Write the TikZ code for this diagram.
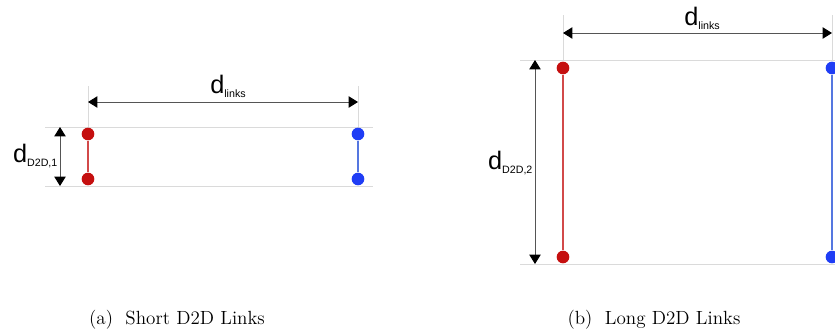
\documentclass[tikz,border=0pt]{standalone}
\usepackage{fontspec}
\setsansfont{Liberation Sans}
\usetikzlibrary{arrows.meta,positioning,calc}
\definecolor{dotred}{HTML}{C50F0F}
\definecolor{linered}{HTML}{D24A4A}
\definecolor{dotblue}{HTML}{1F3DF5}
\definecolor{lineblue}{HTML}{5577E0}
\definecolor{guidecol}{HTML}{DADADA}
\definecolor{dimcol}{HTML}{555555}

\newcommand{\dlabel}[1]{{\fontsize{19}{19}\selectfont d}\raisebox{-0.6ex}{\fontsize{8}{8}\selectfont #1}}

\begin{document}
\begin{tikzpicture}[
  x=0.75pt, y=-0.75pt, font=\sffamily,
  >={Triangle[length=7pt,width=8.5pt,color=black]},
  dot/.style={circle, inner sep=0pt, minimum size=9.5pt},
  guide/.style={guidecol, line width=0.7pt},
  dimline/.style={<->, dimcol, line width=0.7pt},
  caption/.style={font=\rmfamily\fontsize{14.3}{16}\selectfont}
]
\useasboundingbox (0,0) rectangle (835,332);

% (a) short links
\coordinate (aTL) at (45,127);
\coordinate (aTR) at (373,127);
\coordinate (aBL) at (45,186);
\coordinate (aBR) at (373,186);
\draw[guide] (aTL) -- (aTR);
\draw[guide] (aBL) -- (aBR);
\draw[guide] (88,86) -- (88,127);
\draw[guide] (358,86) -- (358,127);
\node[dot, fill=dotred] (aR1) at (88,134) {};
\node[dot, fill=dotred] (aR2) at (88,179) {};
\node[dot, fill=dotblue] (aB1) at (358,134) {};
\node[dot, fill=dotblue] (aB2) at (358,179) {};
\draw[linered, line width=0.8pt] (aR1) -- (aR2);
\draw[lineblue, line width=0.8pt] (aB1) -- (aB2);
\coordinate (aW1) at (88,102);
\coordinate (aW2) at (358,102);
\draw[dimline] (aW1) -- (aW2);
\node (aLinks) at (228,86) {\dlabel{links}};
\coordinate (aH1) at (60,127);
\coordinate (aH2) at (60,186);
\draw[dimline] (aH1) -- (aH2);
\node[anchor=east, inner sep=1pt] (aD2D) at (59,156) {\dlabel{D2D,1}};
\node[caption] (capA) at (177,320) {(a)~~Short D2D Links};

% (b) long links
\coordinate (bTL) at (520,60);
\coordinate (bTR) at (835,60);
\coordinate (bBL) at (520,264);
\coordinate (bBR) at (835,264);
\draw[guide] (bTL) -- (bTR);
\draw[guide] (bBL) -- (bBR);
\draw[guide] (563,15) -- (563,60);
\draw[guide] (832,15) -- (832,60);
\node[dot, fill=dotred] (bR1) at (563,68) {};
\node[dot, fill=dotred] (bR2) at (563,257) {};
\node[dot, fill=dotblue] (bB1) at (832,68) {};
\node[dot, fill=dotblue] (bB2) at (832,257) {};
\draw[linered, line width=0.8pt] (bR1) -- (bR2);
\draw[lineblue, line width=0.8pt] (bB1) -- (bB2);
\coordinate (bW1) at (563,33);
\coordinate (bW2) at (832,33);
\draw[dimline] (bW1) -- (bW2);
\node (bLinks) at (702,18) {\dlabel{links}};
\coordinate (bH1) at (535,60);
\coordinate (bH2) at (535,264);
\draw[dimline] (bH1) -- (bH2);
\node[anchor=east, inner sep=1pt] (bD2D) at (534,163) {\dlabel{D2D,2}};
\node[caption] (capB) at (654,320) {(b)~~Long D2D Links};
\end{tikzpicture}
\end{document}
